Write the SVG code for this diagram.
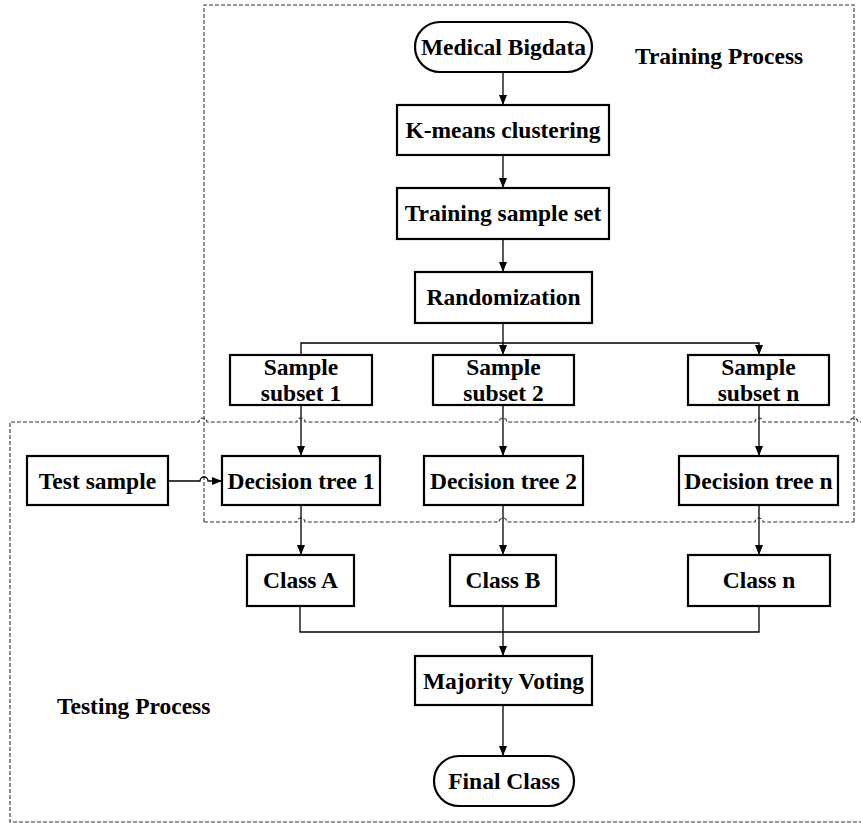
<svg xmlns="http://www.w3.org/2000/svg" width="861" height="823" viewBox="0 0 861 823">
<defs>
<marker id="arr" markerWidth="10" markerHeight="8" refX="10" refY="4" orient="auto" markerUnits="userSpaceOnUse">
<path d="M0,0 L10,4 L0,8 z" fill="#000"/>
</marker>
<style>
.box{fill:#fff;stroke:#000;stroke-width:2.2}
.t{font-family:"Liberation Serif","Times New Roman",serif;font-weight:bold;font-size:23.5px;fill:#000;text-anchor:middle}
.lbl{font-family:"Liberation Serif","Times New Roman",serif;font-weight:bold;font-size:23.5px;fill:#000}
.c{fill:none;stroke:#000;stroke-width:1.3}
.d{fill:none;stroke:#333;stroke-width:1.1;stroke-dasharray:4,2}
</style>
</defs>
<rect width="861" height="823" fill="#fff"/>

<g id="regions">
<path class="d" d="M204,522 V5 H854 V522"/>
<path class="d" d="M204,522 H297 a4,4 0 0 1 8,0 H499 a4,4 0 0 1 8,0 H755 a4,4 0 0 1 8,0 H854"/>
<path class="d" d="M863,822 H10 V422 H199 a4,4 0 0 1 8,0 H297 a4,4 0 0 1 8,0 H499 a4,4 0 0 1 8,0 H755 a4,4 0 0 1 8,0 H850 a4,4 0 0 1 8,0 H863"/>
<text class="lbl" x="635" y="64">Training Process</text>
<text class="lbl" x="57" y="714">Testing Process</text>
</g>

<g id="connectors">
<path class="c" d="M503,72 V105" marker-end="url(#arr)"/>
<path class="c" d="M503,155 V188" marker-end="url(#arr)"/>
<path class="c" d="M503,239 V272" marker-end="url(#arr)"/>
<path class="c" d="M503,323 V355" marker-end="url(#arr)"/>
<path class="c" d="M301,355 V343 H759 V355" marker-end="url(#arr)"/>
<path class="c" d="M301,405 V456" marker-end="url(#arr)"/>
<path class="c" d="M503,405 V456" marker-end="url(#arr)"/>
<path class="c" d="M759,405 V456" marker-end="url(#arr)"/>
<path class="c" d="M168,481 H200 a4,4 0 0 1 8,0 H222" marker-end="url(#arr)"/>
<path class="c" d="M301,505 V555" marker-end="url(#arr)"/>
<path class="c" d="M503,505 V555" marker-end="url(#arr)"/>
<path class="c" d="M759,505 V555" marker-end="url(#arr)"/>
<path class="c" d="M300,606 V632 H759 V606"/>
<path class="c" d="M503,606 V656" marker-end="url(#arr)"/>
<path class="c" d="M503,705 V756" marker-end="url(#arr)"/>
</g>

<g id="medical-bigdata">
<rect class="box" x="415" y="22" width="177" height="50" rx="25"/>
<text class="t" x="503.5" y="55">Medical Bigdata</text>
</g>
<g id="kmeans">
<rect class="box" x="397" y="105" width="212" height="50"/>
<text class="t" x="503" y="138">K-means clustering</text>
</g>
<g id="training-set">
<rect class="box" x="397" y="188" width="212" height="51"/>
<text class="t" x="503" y="221">Training sample set</text>
</g>
<g id="randomization">
<rect class="box" x="415" y="272" width="177" height="51"/>
<text class="t" x="503.5" y="305">Randomization</text>
</g>
<g id="subset1">
<rect class="box" x="230" y="355" width="142" height="50"/>
<text class="t" x="301" y="375">Sample</text>
<text class="t" x="301" y="401">subset 1</text>
</g>
<g id="subset2">
<rect class="box" x="433" y="355" width="141" height="50"/>
<text class="t" x="503.5" y="375">Sample</text>
<text class="t" x="503.5" y="401">subset 2</text>
</g>
<g id="subsetn">
<rect class="box" x="688" y="355" width="141" height="50"/>
<text class="t" x="758.5" y="375">Sample</text>
<text class="t" x="758.5" y="401">subset n</text>
</g>
<g id="test-sample">
<rect class="box" x="27" y="456" width="141" height="49"/>
<text class="t" x="97.5" y="489">Test sample</text>
</g>
<g id="tree1">
<rect class="box" x="222" y="456" width="158" height="49"/>
<text class="t" x="301" y="489">Decision tree 1</text>
</g>
<g id="tree2">
<rect class="box" x="424" y="456" width="159" height="49"/>
<text class="t" x="503.5" y="489">Decision tree 2</text>
</g>
<g id="treen">
<rect class="box" x="679" y="456" width="159" height="49"/>
<text class="t" x="758.5" y="489">Decision tree n</text>
</g>
<g id="classA">
<rect class="box" x="247" y="555" width="107" height="51"/>
<text class="t" x="300.5" y="588">Class A</text>
</g>
<g id="classB">
<rect class="box" x="450" y="555" width="106" height="51"/>
<text class="t" x="503" y="588">Class B</text>
</g>
<g id="classn">
<rect class="box" x="688" y="555" width="142" height="51"/>
<text class="t" x="759" y="588">Class n</text>
</g>
<g id="majority">
<rect class="box" x="415" y="656" width="177" height="49"/>
<text class="t" x="503.5" y="689">Majority Voting</text>
</g>
<g id="final-class">
<rect class="box" x="434" y="756" width="140" height="50" rx="25"/>
<text class="t" x="504" y="789">Final Class</text>
</g>
</svg>
